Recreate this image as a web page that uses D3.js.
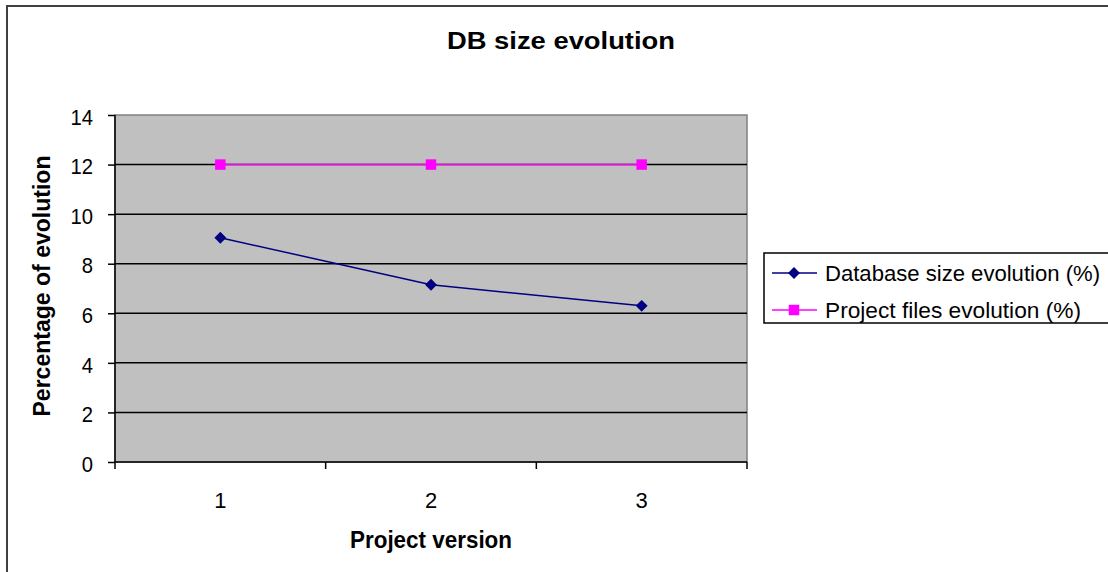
<!DOCTYPE html>
<html>
<head>
    <meta charset="utf-8">
    <title>DB size evolution</title>
    <script src="https://d3js.org/d3.v7.min.js"></script>
    <style>
        body { margin: 0; background: white; }
        text { font-family: "Liberation Sans", Arial, sans-serif; fill: black; }
    </style>
</head>
<body>
<script>
    // data
    let versions = [1, 2, 3];
    let dbSize = [9.05, 7.15, 6.3];
    let projectFiles = [12, 12, 12];
    let yTicks = [0, 2, 4, 6, 8, 10, 12, 14];
    let seriesNames = ["Database size evolution (%)", "Project files evolution (%)"];

    let W = 1108, H = 572;
    let plot = {left: 115, right: 747, top: 115, bottom: 462};

    let svg = d3.select("body").append("svg")
        .attr("width", W)
        .attr("height", H);

    // outer frame (runs past the right and bottom edges)
    svg.append("rect")
        .attr("x", 7).attr("y", 6)
        .attr("width", W + 20).attr("height", H + 20)
        .attr("fill", "white")
        .attr("stroke", "#404040")
        .attr("stroke-width", 2);

    let x = d3.scaleBand()
        .domain(versions)
        .range([plot.left, plot.right]);

    let y = d3.scaleLinear()
        .domain([0, 14])
        .range([plot.bottom, plot.top]);

    // plot background
    svg.append("rect")
        .attr("x", plot.left).attr("y", plot.top)
        .attr("width", plot.right - plot.left)
        .attr("height", plot.bottom - plot.top)
        .attr("fill", "#c0c0c0")
        .attr("stroke", "#808080")
        .attr("stroke-width", 1.5);

    // gridlines
    svg.append("g")
        .selectAll("line")
        .data(yTicks.filter(d => d > 0 && d < 14))
        .join("line")
            .attr("x1", plot.left).attr("x2", plot.right)
            .attr("y1", d => y(d)).attr("y2", d => y(d))
            .attr("stroke", "black")
            .attr("stroke-width", 1.5);

    // y axis
    let yAxis = svg.append("g")
        .attr("transform", `translate(${plot.left},0)`)
        .call(d3.axisLeft(y).tickValues(yTicks).tickSize(7).tickPadding(20));
    yAxis.selectAll("text")
        .attr("font-size", 22)
        .attr("font-family", "Liberation Sans, Arial, sans-serif")
        .attr("dy", "0.42em")
        .style("fill", "black")
        .attr("transform", "scale(0.92,1)")
        .attr("x", -22 / 0.92);
    yAxis.selectAll("line").attr("stroke", "black").attr("stroke-width", 1.5);
    yAxis.select(".domain").attr("d", `M0,${plot.top}V${plot.bottom}`)
        .attr("stroke", "black").attr("stroke-width", 1.5);

    // x axis
    let xAxis = svg.append("g")
        .attr("transform", `translate(0,${plot.bottom})`);
    xAxis.append("line")
        .attr("x1", plot.left).attr("x2", plot.right)
        .attr("stroke", "black").attr("stroke-width", 1.5);
    let xEdges = versions.map(v => x(v)).concat([plot.right]);
    xAxis.selectAll("line.tick")
        .data(xEdges)
        .join("line")
            .attr("class", "tick")
            .attr("x1", d => d).attr("x2", d => d)
            .attr("y1", 0).attr("y2", 7)
            .attr("stroke", "black").attr("stroke-width", 1.5);
    xAxis.selectAll("text")
        .data(versions)
        .join("text")
            .attr("x", d => x(d) + x.bandwidth() / 2)
            .attr("y", 46)
            .attr("text-anchor", "middle")
            .attr("font-size", 22)
            .text(d => d);

    // titles
    svg.append("text")
        .attr("x", 561).attr("y", 49)
        .attr("text-anchor", "middle")
        .attr("font-family", "DejaVu Sans, Verdana, sans-serif")
        .attr("font-size", 23).attr("font-weight", "bold")
        .attr("textLength", 228).attr("lengthAdjust", "spacingAndGlyphs")
        .text("DB size evolution");

    svg.append("text")
        .attr("x", 431).attr("y", 548)
        .attr("text-anchor", "middle")
        .attr("font-size", 24).attr("font-weight", "bold")
        .attr("textLength", 162).attr("lengthAdjust", "spacingAndGlyphs")
        .text("Project version");

    svg.append("text")
        .attr("transform", `translate(50,286) rotate(-90)`)
        .attr("text-anchor", "middle")
        .attr("font-size", 24).attr("font-weight", "bold")
        .attr("textLength", 261).attr("lengthAdjust", "spacingAndGlyphs")
        .text("Percentage of evolution");

    // lines
    let cx = v => x(v) + x.bandwidth() / 2;
    let line = d3.line().x(d => cx(d[0])).y(d => y(d[1]));

    let dbData = versions.map((v, i) => [v, dbSize[i]]);
    let pfData = versions.map((v, i) => [v, projectFiles[i]]);

    svg.append("path")
        .attr("d", line(dbData))
        .attr("fill", "none")
        .attr("stroke", "#000080")
        .attr("stroke-width", 1.5);
    svg.append("path")
        .attr("d", line(pfData))
        .attr("fill", "none")
        .attr("stroke", "#ff00ff")
        .attr("stroke-width", 1.5);

    let diamond = d3.symbol().type(d3.symbolDiamond2).size(90);
    let square = d3.symbol().type(d3.symbolSquare).size(110);

    svg.append("g").selectAll("path")
        .data(dbData)
        .join("path")
            .attr("d", diamond)
            .attr("transform", d => `translate(${cx(d[0])},${y(d[1])})`)
            .attr("fill", "#000080");
    svg.append("g").selectAll("path")
        .data(pfData)
        .join("path")
            .attr("d", square)
            .attr("transform", d => `translate(${cx(d[0])},${y(d[1])})`)
            .attr("fill", "#ff00ff");

    // legend
    let legend = svg.append("g");
    legend.append("rect")
        .attr("x", 764).attr("y", 253)
        .attr("width", 400).attr("height", 70)
        .attr("fill", "white")
        .attr("stroke", "black")
        .attr("stroke-width", 1.5);

    let legendColors = ["#000080", "#ff00ff"];
    let legendSymbols = [diamond, square];
    let legendWidths = [275, 256];
    let rowY = [273, 310];

    seriesNames.forEach((name, i) => {
        legend.append("line")
            .attr("x1", 772).attr("x2", 817)
            .attr("y1", rowY[i]).attr("y2", rowY[i])
            .attr("stroke", legendColors[i]).attr("stroke-width", 1.5);
        legend.append("path")
            .attr("d", legendSymbols[i])
            .attr("transform", `translate(794,${rowY[i]})`)
            .attr("fill", legendColors[i]);
        legend.append("text")
            .attr("x", 825).attr("y", rowY[i] + 8)
            .attr("font-size", 22)
            .attr("textLength", legendWidths[i]).attr("lengthAdjust", "spacingAndGlyphs")
            .text(name);
    });
</script>
</body>
</html>
